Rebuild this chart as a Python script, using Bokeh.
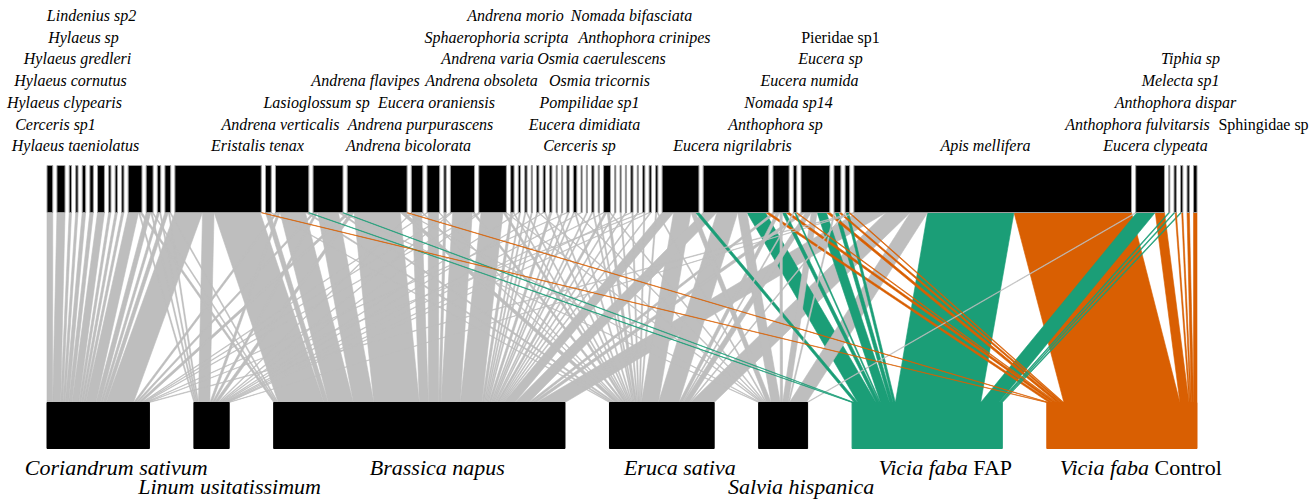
import numpy as np
from bokeh.plotting import figure
from bokeh.models import Range1d, ColumnDataSource
from bokeh.embed import file_html
from bokeh.resources import INLINE
from bokeh.core.properties import value

# ---------------------------------------------------------------------------
# Visit counts: one list per plant, one entry per flower-visitor taxon
# (visitor taxa in the order they appear along the top row, left to right)
# ---------------------------------------------------------------------------
plant_names = ["Coriandrum sativum", "Linum usitatissimum", "Brassica napus",
               "Eruca sativa", "Salvia hispanica", "Vicia faba FAP",
               "Vicia faba Control"]

coriandrum = [5, 7, 2, 2, 3, 3, 6, 2, 2, 2,
              9, 4, 2, 3, 24, 0, 2, 2, 3, 0,
              1, 0, 1, 1, 0, 0, 0, 0, 0, 0,
              0, 0, 0, 1, 0, 0, 0, 0, 0, 0,
              0, 0, 0, 0, 0, 1, 0, 0, 0, 0,
              0, 0, 0, 0, 0, 2, 0, 0, 0, 0,
              0, 0]
linum = [0, 0, 0, 0, 0, 0, 0, 0, 0, 0,
         1, 1, 1, 1, 10, 0, 2, 2, 3, 1,
         0, 0, 1, 1, 0, 1, 0, 0, 0, 1,
         0, 0, 0, 0, 0, 1, 0, 0, 0, 1,
         0, 0, 0, 1, 0, 0, 1, 0, 0, 0,
         0, 0, 0, 0, 0, 1, 0, 0, 0, 0,
         0, 0]
brassica = [0, 0, 0, 0, 0, 0, 0, 0, 0, 0,
            2, 1, 0, 1, 40, 4, 22, 18, 40, 8,
            9, 2, 17, 19, 2, 1, 1, 1, 1, 0,
            2, 0, 1, 1, 1, 0, 1, 1, 0, 2,
            1, 0, 1, 0, 1, 0, 1, 0, 10, 12,
            3, 0, 4, 0, 0, 25, 0, 0, 0, 0,
            0, 0]
eruca = [0, 0, 0, 0, 0, 0, 0, 0, 0, 0,
         0, 0, 0, 0, 0, 1, 2, 2, 4, 1,
         1, 0, 2, 2, 1, 0, 1, 0, 0, 1,
         0, 1, 0, 0, 1, 0, 0, 1, 1, 2,
         0, 1, 0, 1, 0, 1, 0, 1, 15, 18,
         3, 1, 5, 0, 1, 21, 0, 0, 0, 0,
         0, 0]
salvia = [0, 0, 0, 0, 0, 0, 0, 0, 0, 0,
          0, 0, 0, 0, 0, 0, 0, 1, 1, 0,
          0, 0, 0, 1, 0, 0, 0, 0, 1, 0,
          0, 0, 0, 0, 1, 0, 0, 0, 0, 1,
          0, 0, 0, 0, 0, 0, 0, 1, 4, 8,
          2, 0, 5, 1, 0, 15, 1, 0, 0, 0,
          0, 0]
faba_fap = [0, 0, 0, 0, 0, 0, 0, 0, 0, 0,
            0, 0, 0, 0, 0, 0, 1, 1, 0, 0,
            0, 0, 0, 0, 0, 0, 0, 0, 0, 0,
            0, 0, 0, 0, 0, 0, 0, 0, 0, 0,
            0, 0, 0, 0, 0, 0, 0, 0, 3, 16,
            3, 1, 8, 3, 2, 75, 16, 1, 1, 1,
            0, 0]
faba_control = [0, 0, 0, 0, 0, 0, 0, 0, 0, 0,
                0, 0, 0, 0, 1, 0, 0, 0, 1, 0,
                0, 0, 0, 0, 0, 0, 0, 0, 0, 0,
                0, 0, 0, 0, 0, 0, 0, 0, 0, 0,
                0, 0, 0, 0, 0, 0, 0, 0, 0, 3,
                3, 1, 3, 2, 1, 102, 8, 0, 1, 1,
                2, 3]

# Visitor names shown above the web: (name, x centre, text row, italic)
visitor_labels = [
    ("Lindenius sp2", 91, 1, True), ("Andrena morio", 515, 1, True),
    ("Nomada bifasciata", 631, 1, True),
    ("Hylaeus sp", 83, 2, True), ("Sphaerophoria scripta", 496, 2, True),
    ("Anthophora crinipes", 644, 2, True), ("Pieridae sp1", 840, 2, False),
    ("Hylaeus gredleri", 77, 3, True), ("Andrena varia", 487, 3, True),
    ("Osmia caerulescens", 601, 3, True), ("Eucera sp", 830, 3, True),
    ("Tiphia sp", 1190, 3, True),
    ("Hylaeus cornutus", 70, 4, True), ("Andrena flavipes", 365, 4, True),
    ("Andrena obsoleta", 481, 4, True), ("Osmia tricornis", 599, 4, True),
    ("Eucera numida", 809, 4, True), ("Melecta sp1", 1180, 4, True),
    ("Hylaeus clypearis", 64, 5, True), ("Lasioglossum sp", 316, 5, True),
    ("Eucera oraniensis", 436, 5, True), ("Pompilidae sp1", 589, 5, True),
    ("Nomada sp14", 788, 5, True), ("Anthophora dispar", 1175, 5, True),
    ("Cerceris sp1", 55, 6, True), ("Andrena verticalis", 280, 6, True),
    ("Andrena purpurascens", 420, 6, True), ("Eucera dimidiata", 584, 6, True),
    ("Anthophora sp", 775, 6, True), ("Anthophora fulvitarsis", 1137, 6, True),
    ("Sphingidae sp", 1263, 6, False),
    ("Hylaeus taeniolatus", 75, 7, True), ("Eristalis tenax", 257, 7, True),
    ("Andrena bicolorata", 408, 7, True), ("Cerceris sp", 579, 7, True),
    ("Eucera nigrilabris", 732, 7, True), ("Apis mellifera", 985, 7, True),
    ("Eucera clypeata", 1155, 7, True),
]

# ---------------------------------------------------------------------------
# Layout of the bipartite web
# ---------------------------------------------------------------------------
GREY, GREEN, ORANGE = "#BEBEBE", "#1B9E77", "#D95F02"
link_colors = [GREY] * 5 + [GREEN, ORANGE]
low_box_colors = ["black"] * 5 + [GREEN, ORANGE]

web = np.array([coriandrum, linum, brassica, eruca, salvia,
                faba_fap, faba_control], dtype=float)
n_low, n_high = web.shape
low_tot = web.sum(axis=1)
high_tot = web.sum(axis=0)

LEFT, RIGHT = 46.5, 1196.5
span = RIGHT - LEFT
gap_high, gap_low = 4.2, 44.5
s_high = (span - gap_high * (n_high - 1)) / high_tot.sum()
s_low = (span - gap_low * (n_low - 1)) / low_tot.sum()

high_left = LEFT + np.concatenate([[0.0], np.cumsum(high_tot[:-1] * s_high + gap_high)])
low_left = LEFT + np.concatenate([[0.0], np.cumsum(low_tot[:-1] * s_low + gap_low)])

HIGH_TOP, HIGH_BOTTOM = 165.0, 212.0
LOW_TOP, LOW_BOTTOM = 402.0, 448.0

# interaction polygons
links = []
for i in range(n_low):
    for j in range(n_high):
        v = web[i, j]
        if v <= 0:
            continue
        t0 = high_left[j] + s_high * web[:i, j].sum()
        b0 = low_left[i] + s_low * web[i, :j].sum()
        links.append((v, [t0, t0 + v * s_high, b0 + v * s_low, b0],
                      [HIGH_BOTTOM, HIGH_BOTTOM, LOW_TOP, LOW_TOP], link_colors[i]))
# wide links at the back, thin ones on top
links.sort(key=lambda l: -l[0])
link_src = ColumnDataSource(dict(xs=[l[1] for l in links], ys=[l[2] for l in links],
                                 color=[l[3] for l in links]))

p = figure(width=1315, height=501, output_backend="svg", toolbar_location=None,
           x_range=Range1d(0, 1315), y_range=Range1d(501, 0),
           min_border=0, outline_line_color=None, background_fill_color="white")
p.axis.visible = False
p.grid.visible = False

p.patches("xs", "ys", source=link_src, fill_color="color", line_color="color",
          line_width=0.6)

# visitor boxes (top) and plant boxes (bottom)
p.quad(left=high_left, right=high_left + high_tot * s_high,
       top=HIGH_TOP, bottom=HIGH_BOTTOM, fill_color="black",
       line_color="#9E9E9E", line_width=1)
p.quad(left=low_left, right=low_left + low_tot * s_low,
       top=LOW_TOP, bottom=LOW_BOTTOM, fill_color=low_box_colors,
       line_color=low_box_colors, line_width=1)

# visitor labels
SERIF = value("Liberation Serif")
row_y = {r: 15.0 + (r - 1) * 21.7 for r in range(1, 8)}
for italic in (True, False):
    sel = [l for l in visitor_labels if l[3] == italic]
    p.text(x=[l[1] for l in sel], y=[row_y[l[2]] for l in sel],
           text=[l[0] for l in sel], text_font=SERIF,
           text_font_style="italic" if italic else "normal",
           text_font_size="16px", text_align="center", text_baseline="middle",
           text_color="black")

# plant labels, alternating between two lines
FS = 22
centres = low_left + low_tot * s_low / 2 + 18
lab_y = [467, 486, 467, 467, 486, 467, 467]
simple = [0, 1, 2, 3, 4]
p.text(x=[centres[k] for k in simple], y=[lab_y[k] for k in simple],
       text=[plant_names[k] for k in simple], text_font=SERIF,
       text_font_style="italic", text_font_size=f"{FS}px",
       text_align="center", text_baseline="middle", text_color="black")

# "Vicia faba" in italics followed by the treatment in upright type
ital_w = 4.139 * FS
space_w = 0.25 * FS
for k, suffix, suffix_em in ((5, "FAP", 1.834), (6, "Control", 3.056)):
    total = ital_w + space_w + suffix_em * FS
    start = centres[k] - total / 2
    p.text(x=[start + ital_w], y=[lab_y[k]], text=["Vicia faba"], text_font=SERIF,
           text_font_style="italic", text_font_size=f"{FS}px", text_align="right",
           text_baseline="middle", text_color="black")
    p.text(x=[start + ital_w + space_w], y=[lab_y[k]], text=[suffix], text_font=SERIF,
           text_font_style="normal", text_font_size=f"{FS}px", text_align="left",
           text_baseline="middle", text_color="black")

open("out.html", "w").write(file_html(p, INLINE))
